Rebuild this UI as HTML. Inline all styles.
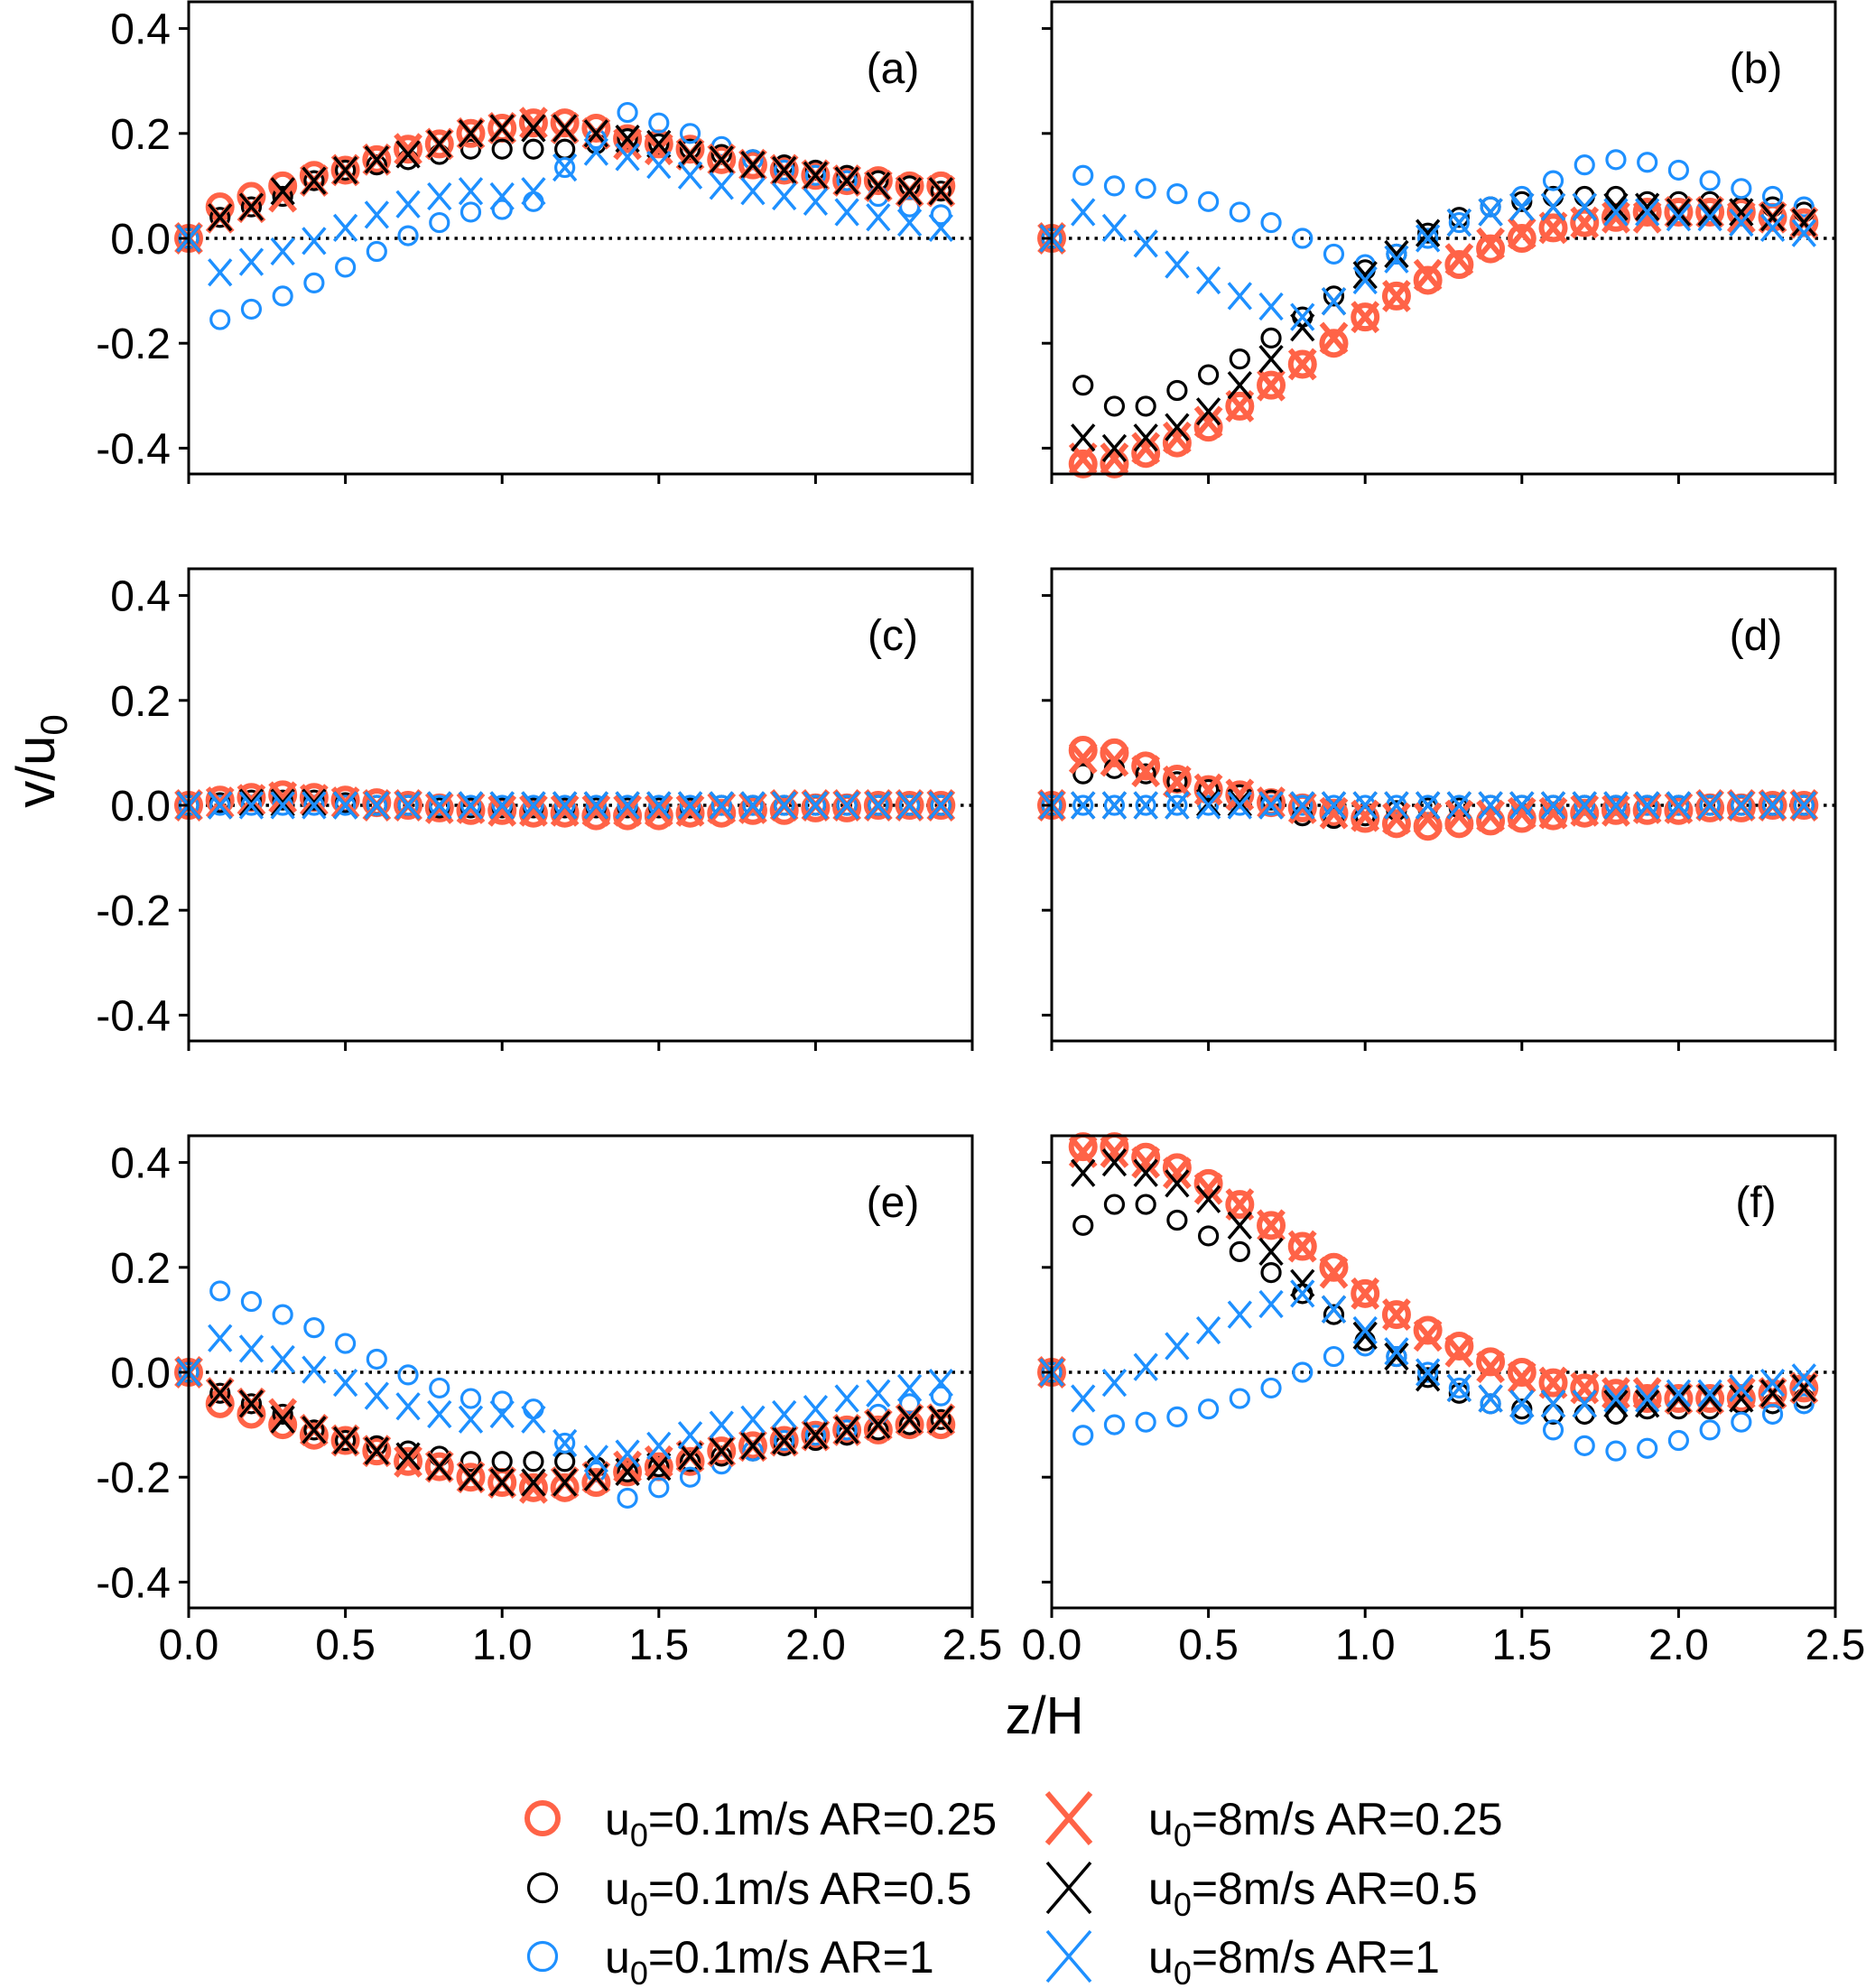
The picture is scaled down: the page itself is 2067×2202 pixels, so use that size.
<!DOCTYPE html>
<html><head><meta charset="utf-8"><style>
html,body{margin:0;padding:0;background:#fff;}
svg{display:block;font-family:"Liberation Sans",Arial,sans-serif;}
</style></head><body>
<svg id="fig" width="2067" height="2202" viewBox="0 0 2067 2202">
<text x="60" y="843" font-size="60" text-anchor="middle" transform="rotate(-90 60 843)">v/u<tspan font-size="42" dy="14">0</tspan></text>
<text x="1157" y="1920" font-size="58" text-anchor="middle">z/H</text>
<g id="legend"></g>
</svg>
<script>
const zVals=[0,0.1,0.2,0.3,0.4,0.5,0.6,0.7,0.8,0.9,1.0,1.1,1.2,1.3,1.4,1.5,1.6,1.7,1.8,1.9,2.0,2.1,2.2,2.3,2.4];
const yTicks=[0.4,0.2,0.0,-0.2,-0.4];
const xTicks=[0.0,0.5,1.0,1.5,2.0,2.5];
const xTickLabels=["0.0","0.5","1.0","1.5","2.0","2.5"];
const yTickLabels=["0.4","0.2","0.0","-0.2","-0.4"];
const panelLabels=["(a)","(b)","(c)","(d)","(e)","(f)"];
const seriesNames=["u0=0.1m/s AR=0.25","u0=0.1m/s AR=0.5","u0=0.1m/s AR=1","u0=8m/s AR=0.25","u0=8m/s AR=0.5","u0=8m/s AR=1"];
// panel a
const aRedO=[0,.06,.08,.10,.12,.13,.15,.17,.18,.20,.21,.22,.22,.21,.19,.18,.17,.15,.14,.13,.12,.11,.11,.10,.10];
const aBlkO=[0,.04,.06,.08,.11,.13,.14,.15,.16,.17,.17,.17,.17,.18,.19,.18,.17,.16,.15,.14,.13,.12,.11,.10,.09];
const aBluO=[0,-.155,-.135,-.11,-.085,-.055,-.025,.005,.03,.05,.055,.07,.135,.19,.24,.22,.20,.175,.15,.13,.12,.11,.08,.06,.045];
const aRedX=[0,.04,.06,.08,.11,.13,.15,.17,.18,.20,.21,.22,.21,.20,.18,.17,.16,.15,.14,.13,.12,.11,.10,.09,.09];
const aBlkX=[0,.04,.06,.09,.11,.13,.15,.16,.18,.20,.21,.21,.21,.20,.19,.18,.16,.15,.14,.13,.12,.11,.10,.09,.09];
const aBluX=[0,-.065,-.045,-.025,-.005,.02,.045,.065,.08,.09,.08,.09,.135,.165,.155,.14,.12,.10,.09,.08,.07,.05,.04,.03,.02];
// panel b
const bRedO=[0,-.43,-.43,-.41,-.39,-.36,-.32,-.28,-.24,-.20,-.15,-.11,-.08,-.05,-.02,0,.02,.03,.04,.05,.05,.05,.05,.04,.03];
const bBlkO=[0,-.28,-.32,-.32,-.29,-.26,-.23,-.19,-.15,-.11,-.06,-.03,.01,.04,.06,.07,.08,.08,.08,.07,.07,.07,.06,.06,.05];
const bBluO=[0,.12,.10,.095,.085,.07,.05,.03,0,-.03,-.05,-.03,0,.03,.06,.08,.11,.14,.15,.145,.13,.11,.095,.08,.06];
const bRedX=[0,-.42,-.42,-.40,-.38,-.35,-.32,-.28,-.24,-.19,-.15,-.11,-.07,-.04,-.01,.01,.02,.03,.04,.04,.05,.05,.04,.04,.03];
const bBlkX=[0,-.38,-.40,-.38,-.36,-.33,-.28,-.23,-.17,-.12,-.07,-.03,.01,.03,.05,.06,.06,.06,.06,.06,.05,.05,.05,.04,.03];
const bBluX=[0,.05,.02,-.01,-.05,-.08,-.11,-.13,-.15,-.12,-.08,-.04,0,.03,.05,.06,.06,.06,.05,.05,.04,.04,.03,.02,.01];
// panel c
const cRedO=[0,.01,.015,.02,.015,.01,.005,0,-.005,-.01,-.01,-.015,-.015,-.02,-.02,-.02,-.015,-.015,-.01,-.01,-.005,-.005,0,0,0];
const cBlkO=[0,.005,.01,.01,.01,.005,0,0,-.005,-.005,-.005,-.005,-.005,-.005,-.005,-.005,-.005,0,0,0,0,0,0,0,0];
const cBluO=[0,0,0,0,0,0,0,0,0,0,0,0,0,0,0,0,0,0,0,0,0,0,0,0,0];
const cRedX=[0,.005,.01,.015,.01,.005,0,0,-.005,-.005,-.01,-.01,-.01,-.01,-.01,-.01,-.01,-.005,-.005,0,0,0,0,0,0];
const cBlkX=[0,0,.005,.005,.005,0,0,0,0,0,0,0,0,0,0,0,0,0,0,0,0,0,0,0,0];
const cBluX=[0,0,0,0,0,0,0,0,0,0,0,0,0,0,0,0,0,0,0,0,0,0,0,0,0];
// panel d
const dRedO=[0,.105,.10,.075,.05,.03,.02,.005,-.005,-.015,-.025,-.035,-.04,-.035,-.03,-.025,-.02,-.015,-.01,-.01,-.01,-.005,-.005,0,0];
const dBlkO=[0,.06,.07,.06,.045,.03,.02,.01,-.02,-.025,-.02,-.01,-.005,-.005,0,0,0,0,0,0,0,0,0,0,0];
const dBluO=[0,0,0,0,0,0,0,0,0,0,0,0,0,0,0,0,0,0,0,0,0,0,0,0,0];
const dRedX=[0,.09,.085,.065,.045,.03,.02,.005,-.005,-.015,-.02,-.025,-.025,-.02,-.02,-.015,-.015,-.01,-.01,-.005,-.005,0,0,0,0];
const dBlkX=[0,0,0,0,0,.005,.005,0,0,0,0,0,0,0,0,0,0,0,0,0,0,0,0,0,0];
const dBluX=[0,0,0,0,0,0,0,0,0,0,0,0,0,0,0,0,0,0,0,0,0,0,0,0,0];
// panel e
const eRedO=[0,-.06,-.08,-.10,-.12,-.13,-.15,-.17,-.18,-.20,-.21,-.22,-.22,-.21,-.19,-.18,-.17,-.15,-.14,-.13,-.12,-.11,-.11,-.10,-.10];
const eBlkO=[0,-.04,-.06,-.08,-.11,-.13,-.14,-.15,-.16,-.17,-.17,-.17,-.17,-.18,-.19,-.18,-.17,-.16,-.15,-.14,-.13,-.12,-.11,-.10,-.09];
const eBluO=[0,.155,.135,.11,.085,.055,.025,-.005,-.03,-.05,-.055,-.07,-.135,-.19,-.24,-.22,-.20,-.175,-.15,-.13,-.12,-.11,-.08,-.06,-.045];
const eRedX=[0,-.04,-.06,-.08,-.11,-.13,-.15,-.17,-.18,-.20,-.21,-.22,-.21,-.20,-.18,-.17,-.16,-.15,-.14,-.13,-.12,-.11,-.10,-.09,-.09];
const eBlkX=[0,-.04,-.06,-.09,-.11,-.13,-.15,-.16,-.18,-.20,-.21,-.21,-.21,-.20,-.19,-.18,-.16,-.15,-.14,-.13,-.12,-.11,-.10,-.09,-.09];
const eBluX=[0,.065,.045,.025,.005,-.02,-.045,-.065,-.08,-.09,-.08,-.09,-.135,-.165,-.155,-.14,-.12,-.10,-.09,-.08,-.07,-.05,-.04,-.03,-.02];
// panel f
const fRedO=[0,.43,.43,.41,.39,.36,.32,.28,.24,.20,.15,.11,.08,.05,.02,0,-.02,-.03,-.04,-.05,-.05,-.05,-.05,-.04,-.03];
const fBlkO=[0,.28,.32,.32,.29,.26,.23,.19,.15,.11,.06,.03,-.01,-.04,-.06,-.07,-.08,-.08,-.08,-.07,-.07,-.07,-.06,-.06,-.05];
const fBluO=[0,-.12,-.10,-.095,-.085,-.07,-.05,-.03,0,.03,.05,.03,0,-.03,-.06,-.08,-.11,-.14,-.15,-.145,-.13,-.11,-.095,-.08,-.06];
const fRedX=[0,.42,.42,.40,.38,.35,.32,.28,.24,.19,.15,.11,.07,.04,.01,-.01,-.02,-.03,-.04,-.04,-.05,-.05,-.04,-.04,-.03];
const fBlkX=[0,.38,.40,.38,.36,.33,.28,.23,.17,.12,.07,.03,-.01,-.03,-.05,-.06,-.06,-.06,-.06,-.06,-.05,-.05,-.05,-.04,-.03];
const fBluX=[0,-.05,-.02,.01,.05,.08,.11,.13,.15,.12,.08,.04,0,-.03,-.05,-.06,-.06,-.06,-.05,-.05,-.04,-.04,-.03,-.02,-.01];

const panelsData=[
 [aRedO,aBlkO,aBluO,aRedX,aBlkX,aBluX],
 [bRedO,bBlkO,bBluO,bRedX,bBlkX,bBluX],
 [cRedO,cBlkO,cBluO,cRedX,cBlkX,cBluX],
 [dRedO,dBlkO,dBluO,dRedX,dBlkX,dBluX],
 [eRedO,eBlkO,eBluO,eRedX,eBlkX,eBluX],
 [fRedO,fBlkO,fBluO,fRedX,fBlkX,fBluX]];

const NS="http://www.w3.org/2000/svg";
const svg=document.getElementById('fig');
const RED="#FF6347",BLUE="#1E90FF",BLK="#000";
const styles=[
 {t:'o',c:RED,r:13,w:6},{t:'o',c:BLK,r:10,w:3.2},{t:'o',c:BLUE,r:10,w:3.2},
 {t:'x',c:RED,r:16,w:6},{t:'x',c:BLK,r:14.5,w:3.5},{t:'x',c:BLUE,r:14.5,w:3.5}];
const colX=[209,1165], rowTop=[2,630,1258], rowH=523;
function mk(tag,parent,attrs){const e=document.createElementNS(NS,tag);for(const k in attrs)e.setAttribute(k,attrs[k]);parent.appendChild(e);return e;}
function marker(g,st,cx,cy){
  if(st.t==='o'){const e=mk('circle',g,{cx:cx,cy:cy,r:st.r,fill:'none',stroke:st.c,'stroke-width':st.w});return e;}
  const d=`M${cx-st.r*0.85},${cy-st.r} L${cx+st.r*0.85},${cy+st.r} M${cx-st.r*0.85},${cy+st.r} L${cx+st.r*0.85},${cy-st.r}`;
  return mk('path',g,{d:d,fill:'none',stroke:st.c,'stroke-width':st.w});
}
panelsData.forEach((series,pi)=>{
  const col=pi%2,row=Math.floor(pi/2);
  const L=colX[col],T=rowTop[row],R=L+868,B=T+rowH;
  const xs=v=>L+v*347.2;
  const ys=v=>T+262+(-v)*581;
  const g=mk('g',svg,{});
  
  
  const zl=mk('line',g,{x1:L,x2:R,y1:ys(0),y2:ys(0),stroke:'#000','stroke-width':3.5,'stroke-dasharray':'3.5 6'});
  
  
  series.forEach((arr,si)=>{
    const sg=mk('g',g,{});
    
    
    arr.forEach((v,i)=>{
      const m=marker(sg,styles[si],xs(zVals[i]),ys(v));
      
      
    });
  });
  const fr=mk('rect',g,{x:L,y:T,width:R-L,height:B-T,fill:'none',stroke:'#000','stroke-width':3});
  
  
  yTicks.forEach((t,i)=>{
    const tk=mk('line',g,{x1:L-11,x2:L,y1:ys(t),y2:ys(t),stroke:'#000','stroke-width':3});
    
    
    if(col===0){
      const tx=mk('text',g,{x:L-20,y:ys(t)+17,'font-size':48,'text-anchor':'end'});
      tx.textContent=yTickLabels[i];
      
      
    }
  });
  xTicks.forEach((t,i)=>{
    const tk=mk('line',g,{x1:xs(t),x2:xs(t),y1:B,y2:B+11,stroke:'#000','stroke-width':3});
    
    
    if(row===2){
      const tx=mk('text',g,{x:xs(t),y:B+57,'font-size':48,'text-anchor':'middle'});
      tx.textContent=xTickLabels[i];
      
      
    }
  });
  const pl=mk('text',g,{x:L+780,y:T+90,'font-size':48,'text-anchor':'middle'});
  pl.textContent=panelLabels[pi];
  
  
});
const lg=document.getElementById('legend');
const legMk=[{t:'o',c:RED,r:17,w:6},{t:'o',c:BLK,r:15.5,w:3.2},{t:'o',c:BLUE,r:15.5,w:3.2},
 {t:'x',c:RED,r:28,w:6},{t:'x',c:BLK,r:28,w:3.5},{t:'x',c:BLUE,r:28,w:3.5}];
const legText=[["0.1m/s AR=0.25"],["0.1m/s AR=0.5"],["0.1m/s AR=1"],["8m/s AR=0.25"],["8m/s AR=0.5"],["8m/s AR=1"]];
const rowsY=[2014,2091,2167];
legText.forEach((t,i)=>{
  const col=Math.floor(i/3),r=i%3;
  const mx=col===0?601:1184, tx=col===0?670:1272;
  const st=legMk[i];
  const e=st.t==='x'
   ? mk('path',lg,{d:`M${mx-24},${rowsY[r]-28} L${mx+24},${rowsY[r]+28} M${mx-24},${rowsY[r]+28} L${mx+24},${rowsY[r]-28}`,fill:'none',stroke:st.c,'stroke-width':st.w})
   : marker(lg,st,mx,rowsY[r]);
  
  
  const te=mk('text',lg,{x:tx,y:rowsY[r]+18,'font-size':50});
  
  
  te.appendChild(document.createTextNode('u'));
  const sub=mk('tspan',te,{'font-size':36,dy:13});sub.textContent='0';
  const rest=mk('tspan',te,{dy:-13});rest.textContent='='+t[0];
});
</script>
</body></html>
